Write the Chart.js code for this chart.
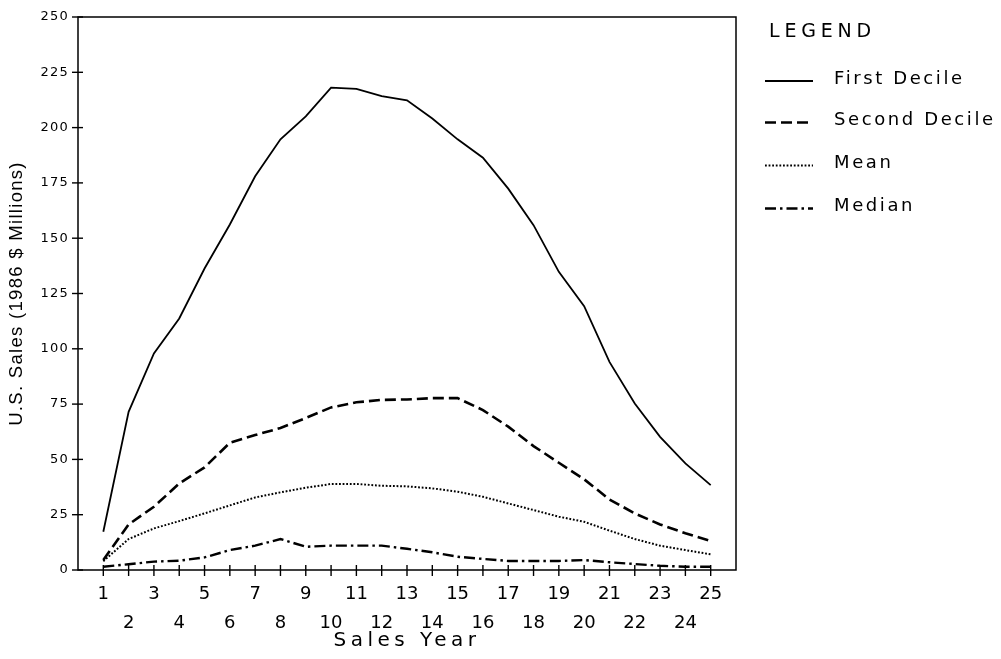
<!DOCTYPE html>
<html>
<head>
<meta charset="utf-8">
<script src="https://cdn.jsdelivr.net/npm/chart.js@4.4.1/dist/chart.umd.min.js"></script>
<style>
html,body{margin:0;padding:0;background:#fff;}
canvas{display:block;}
</style>
</head>
<body>
<canvas id="c" width="1001" height="659"></canvas>
<script>
const years = [1,2,3,4,5,6,7,8,9,10,11,12,13,14,15,16,17,18,19,20,21,22,23,24,25];
const firstDecile  = [17.3,71.5,97.9,113.7,136.3,156.2,178.0,194.7,205.1,218.1,217.5,214.2,212.3,204.1,194.7,186.4,172.4,155.9,134.8,119.3,94.1,75.3,60.2,48.2,38.4];
const secondDecile = [4.5,20.6,28.6,39.1,46.4,57.5,61.0,64.2,68.7,73.5,75.8,76.9,77.1,77.7,77.7,72.3,64.8,56.0,48.5,41.0,31.9,25.6,20.6,16.6,13.1];
const meanSales    = [4.0,14.0,18.8,22.1,25.6,29.2,32.8,35.1,37.2,38.9,38.9,38.1,37.8,36.9,35.4,33.1,30.1,27.1,24.1,21.8,17.8,14.0,11.0,9.0,7.1];
const medianSales  = [1.5,2.6,3.8,4.2,5.7,9.0,11.0,14.0,10.5,11.0,11.0,11.0,9.6,8.0,6.0,5.0,4.1,4.1,4.1,4.5,3.5,2.7,1.9,1.5,1.5];
const yTicks = [0,25,50,75,100,125,150,175,200,225,250];
const seriesLabels = ['First Decile','Second Decile','Mean','Median'];
const legendTitle = 'LEGEND';
const xTitle = 'Sales Year';
const yTitle = 'U.S. Sales (1986 $ Millions)';

const toPts = arr => years.map((yr, i) => ({x: yr, y: arr[i]}));

function withSpacing(fn, sp) {
  return function(a) {
    const c = this.ctx;
    c.save();
    c.letterSpacing = sp;
    fn.call(this, a);
    c.restore();
  };
}

const framePlugin = {
  id: 'frame',
  afterLayout(chart) {
    const xs = chart.scales.x, ys = chart.scales.y;
    if (!ys._patched) {
      ys.drawLabels = withSpacing(ys.drawLabels, '1.2px');
      ys.drawTitle = withSpacing(ys.drawTitle, '1.3px');
      ys._patched = true;
    }
    if (!xs._patched) {
      xs.drawTitle = withSpacing(xs.drawTitle, '4.5px');
      xs._patched = true;
    }
  },
  afterDraw(chart) {
    const ctx = chart.ctx, a = chart.chartArea, xs = chart.scales.x, ys = chart.scales.y;
    ctx.save();
    ctx.strokeStyle = '#000';
    ctx.setLineDash([]);
    ctx.lineWidth = 1.5;
    ctx.strokeRect(a.left, a.top, a.right - a.left, a.bottom - a.top);
    ctx.lineWidth = 1.4;
    for (let i = 0; i < years.length; i++) {
      const px = xs.getPixelForValue(years[i]);
      ctx.beginPath();
      ctx.moveTo(px, a.bottom - 5);
      ctx.lineTo(px, a.bottom + 6);
      ctx.stroke();
    }
    for (let i = 0; i < yTicks.length; i++) {
      const py = ys.getPixelForValue(yTicks[i]);
      ctx.beginPath();
      ctx.moveTo(a.left - 6, py);
      ctx.lineTo(a.left + 5, py);
      ctx.stroke();
    }

    // legend
    ctx.fillStyle = '#000';
    ctx.textAlign = 'left';
    ctx.textBaseline = 'alphabetic';
    ctx.font = '19px "DejaVu Sans"';
    ctx.letterSpacing = '4.8px';
    ctx.fillText(legendTitle, 769, 37);
    ctx.font = '18px "DejaVu Sans"';
    ctx.letterSpacing = '2.6px';
    const rows = [83.5, 125, 168, 211];
    chart.data.datasets.forEach((ds, i) => {
      ctx.fillText(ds.label, 834, rows[i]);
      ctx.beginPath();
      ctx.setLineDash(ds.borderDash || []);
      ctx.lineWidth = ds.borderWidth;
      ctx.moveTo(765, rows[i] - 2.5);
      ctx.lineTo(813, rows[i] - 2.5);
      ctx.stroke();
    });
    ctx.restore();
  }
};

const common = {borderColor: '#000', backgroundColor: '#000', pointRadius: 0, pointHoverRadius: 0, tension: 0, fill: false};

new Chart(document.getElementById('c'), {
  type: 'line',
  data: {
    datasets: [
      Object.assign({label: seriesLabels[0], data: toPts(firstDecile), borderWidth: 1.8, borderDash: []}, common),
      Object.assign({label: seriesLabels[1], data: toPts(secondDecile), borderWidth: 2.6, borderDash: [11, 5]}, common),
      Object.assign({label: seriesLabels[2], data: toPts(meanSales), borderWidth: 2, borderDash: [1.8, 1.8]}, common),
      Object.assign({label: seriesLabels[3], data: toPts(medianSales), borderWidth: 2.4, borderDash: [11, 4, 2.5, 4]}, common)
    ]
  },
  options: {
    responsive: false,
    animation: false,
    devicePixelRatio: 1,
    layout: {padding: {top: 17, right: 265, bottom: 0, left: 0}},
    plugins: {legend: {display: false}, tooltip: {enabled: false}, title: {display: false}},
    scales: {
      x: {
        type: 'linear', min: 0, max: 26,
        afterBuildTicks: s => { s.ticks = years.map(v => ({value: v})); },
        afterFit: s => { s.height = 89; },
        grid: {display: false, drawTicks: false}, border: {display: false},
        ticks: {
          autoSkip: false, maxRotation: 0, minRotation: 0, padding: 9, color: '#000',
          font: {family: 'DejaVu Sans', size: 18, lineHeight: 1.65},
          callback: v => (v % 2 === 1 ? String(v) : ['', String(v)])
        },
        title: {display: true, text: xTitle, color: '#000', font: {family: 'DejaVu Sans', size: 20}, padding: {top: 0, bottom: 6}}
      },
      y: {
        type: 'linear', min: 0, max: 250,
        afterBuildTicks: s => { s.ticks = yTicks.map(v => ({value: v})); },
        afterFit: s => { s.width = 78; },
        grid: {display: false, drawTicks: false}, border: {display: false},
        ticks: {padding: 9, color: '#000', font: {family: 'DejaVu Sans', size: 13}},
        title: {display: true, text: yTitle, color: '#000', font: {family: 'Liberation Sans', size: 18.5}, padding: {top: 6, bottom: 0}}
      }
    }
  },
  plugins: [framePlugin]
});
</script>
</body>
</html>
